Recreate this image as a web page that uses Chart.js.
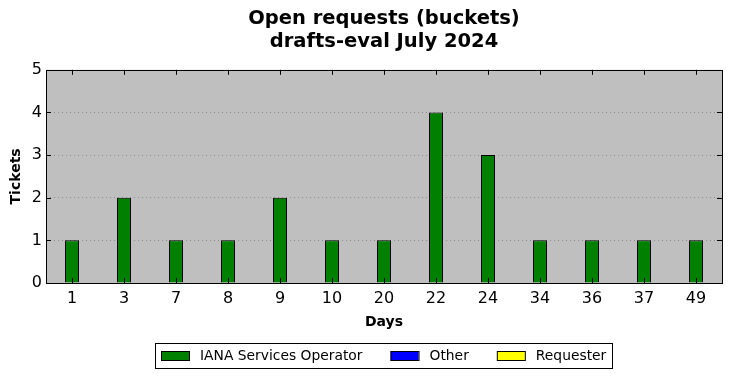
<!DOCTYPE html>
<html>
<head>
<meta charset="utf-8">
<script src="https://cdn.jsdelivr.net/npm/chart.js@4.4.0/dist/chart.umd.min.js"></script>
<style>
  html, body { margin: 0; padding: 0; background: #fff; }
  #wrap { width: 732px; height: 378px; }
</style>
</head>
<body>
<div id="wrap"><canvas id="chart-open-buckets"></canvas></div>
<script>
// open requests per age bucket (days)
const dayBuckets = ["1", "3", "7", "8", "9", "10", "20", "22", "24", "34", "36", "37", "49"];
const ianaCounts = [1, 2, 1, 1, 2, 1, 1, 4, 3, 1, 1, 1, 1];
const otherCounts = [0, 0, 0, 0, 0, 0, 0, 0, 0, 0, 0, 0, 0];
const requesterCounts = [0, 0, 0, 0, 0, 0, 0, 0, 0, 0, 0, 0, 0];
const yTicks = [0, 1, 2, 3, 4, 5];

const FONT = "'DejaVu Sans', sans-serif";

// gray plot background + frame + inward tick marks (classic matplotlib look)
const plotFrame = {
  id: "plotFrame",
  beforeDraw(chart) {
    const { ctx, chartArea: a } = chart;
    ctx.save();
    ctx.fillStyle = "#bfbfbf";
    ctx.fillRect(a.left, a.top, a.right - a.left, a.bottom - a.top);
    ctx.restore();
  },
  afterDraw(chart) {
    const { ctx, chartArea: a, scales } = chart;
    ctx.save();
    ctx.strokeStyle = "#000";
    ctx.lineWidth = 1;
    ctx.beginPath();
    dayBuckets.forEach((_, i) => {
      const x = Math.round(scales.x.getPixelForValue(i)) + 0.5;
      ctx.moveTo(x, a.top); ctx.lineTo(x, a.top + 5);
      ctx.moveTo(x, a.bottom); ctx.lineTo(x, a.bottom - 5);
    });
    yTicks.forEach((v) => {
      const y = Math.round(scales.y.getPixelForValue(v)) + 0.5;
      ctx.moveTo(a.left, y); ctx.lineTo(a.left + 5, y);
      ctx.moveTo(a.right, y); ctx.lineTo(a.right - 5, y);
    });
    ctx.stroke();
    ctx.strokeRect(Math.round(a.left) + 0.5, Math.round(a.top) + 0.5,
      Math.round(a.right - a.left), Math.round(a.bottom - a.top));
    ctx.restore();
  },
};

// framed legend below the axis title, matplotlib style
const boxLegend = {
  id: "boxLegend",
  afterDraw(chart) {
    const { ctx, chartArea: a } = chart;
    const sets = chart.data.datasets;
    ctx.save();
    ctx.font = `13.85px ${FONT}`;
    const widths = sets.map((d) => ctx.measureText(d.label).width);
    const itemW = widths.map((w) => 28 + 11 + w);
    const total = 6 + itemW.reduce((s, w) => s + w, 0) + 28 * (sets.length - 1) + 6;
    const left = Math.round((a.left + a.right) / 2 - total / 2);
    const top = 343;
    const h = 25;
    ctx.strokeStyle = "#000";
    ctx.lineWidth = 1;
    ctx.strokeRect(left + 0.5, top + 0.5, Math.round(total), h);
    let x = left + 6;
    const cy = top + h / 2 + 0.5;
    sets.forEach((d, i) => {
      ctx.fillStyle = d.backgroundColor;
      ctx.fillRect(x, cy - 5, 28, 10);
      ctx.strokeRect(x + 0.5, cy - 5 + 0.5, 28, 9);
      ctx.fillStyle = "#000";
      ctx.textBaseline = "middle";
      ctx.textAlign = "left";
      ctx.fillText(d.label, x + 39, cy);
      x += itemW[i] + 28;
    });
    ctx.restore();
  },
};

const ctx = document.getElementById("chart-open-buckets").getContext("2d");
new Chart(ctx, {
  type: "bar",
  data: {
    labels: dayBuckets,
    datasets: [
      { label: "IANA Services Operator", data: ianaCounts, backgroundColor: "#008000", borderColor: "#000", borderWidth: 1 },
      { label: "Other", data: otherCounts, backgroundColor: "#0000ff", borderColor: "#000", borderWidth: 1 },
      { label: "Requester", data: requesterCounts, backgroundColor: "#ffff00", borderColor: "#000", borderWidth: 1 },
    ],
  },
  options: {
    responsive: true,
    maintainAspectRatio: false,
    animation: false,
    layout: { padding: { left: 0, right: 10, top: 4, bottom: 47 } },
    datasets: { bar: { barPercentage: 0.27, categoryPercentage: 1, grouped: false } },
    scales: {
      x: {
        stacked: true,
        grid: { display: false, drawTicks: false },
        border: { display: false },
        ticks: { color: "#000", font: { family: FONT, size: 16 }, padding: 6 },
        title: { display: true, text: "Days", color: "#000", font: { family: FONT, size: 14, weight: "bold" }, padding: { top: 0, bottom: 0 } },
      },
      y: {
        stacked: true,
        min: 0,
        max: 5,
        afterFit: (s) => { s.width = 46; },
        grid: {
          drawTicks: false,
          color: (c) => (c.tick.value > 0 && c.tick.value < 5 ? "#8c8c8c" : "transparent"),
        },
        border: { display: false, dash: [1, 3] },
        ticks: { stepSize: 1, color: "#000", font: { family: FONT, size: 16 }, padding: 4 },
        title: { display: true, text: "Tickets", color: "#000", font: { family: FONT, size: 14, weight: "bold" }, padding: { top: 8, bottom: 0 } },
      },
    },
    plugins: {
      title: {
        display: true,
        fullSize: false,
        text: ["Open requests (buckets)", "drafts-eval July 2024"],
        color: "#000",
        font: { family: FONT, size: 19.5, weight: "bold" },
        padding: { top: 3, bottom: 16 },
      },
      legend: { display: false },
      tooltip: { enabled: false },
    },
  },
  plugins: [plotFrame, boxLegend],
});
</script>
</body>
</html>
